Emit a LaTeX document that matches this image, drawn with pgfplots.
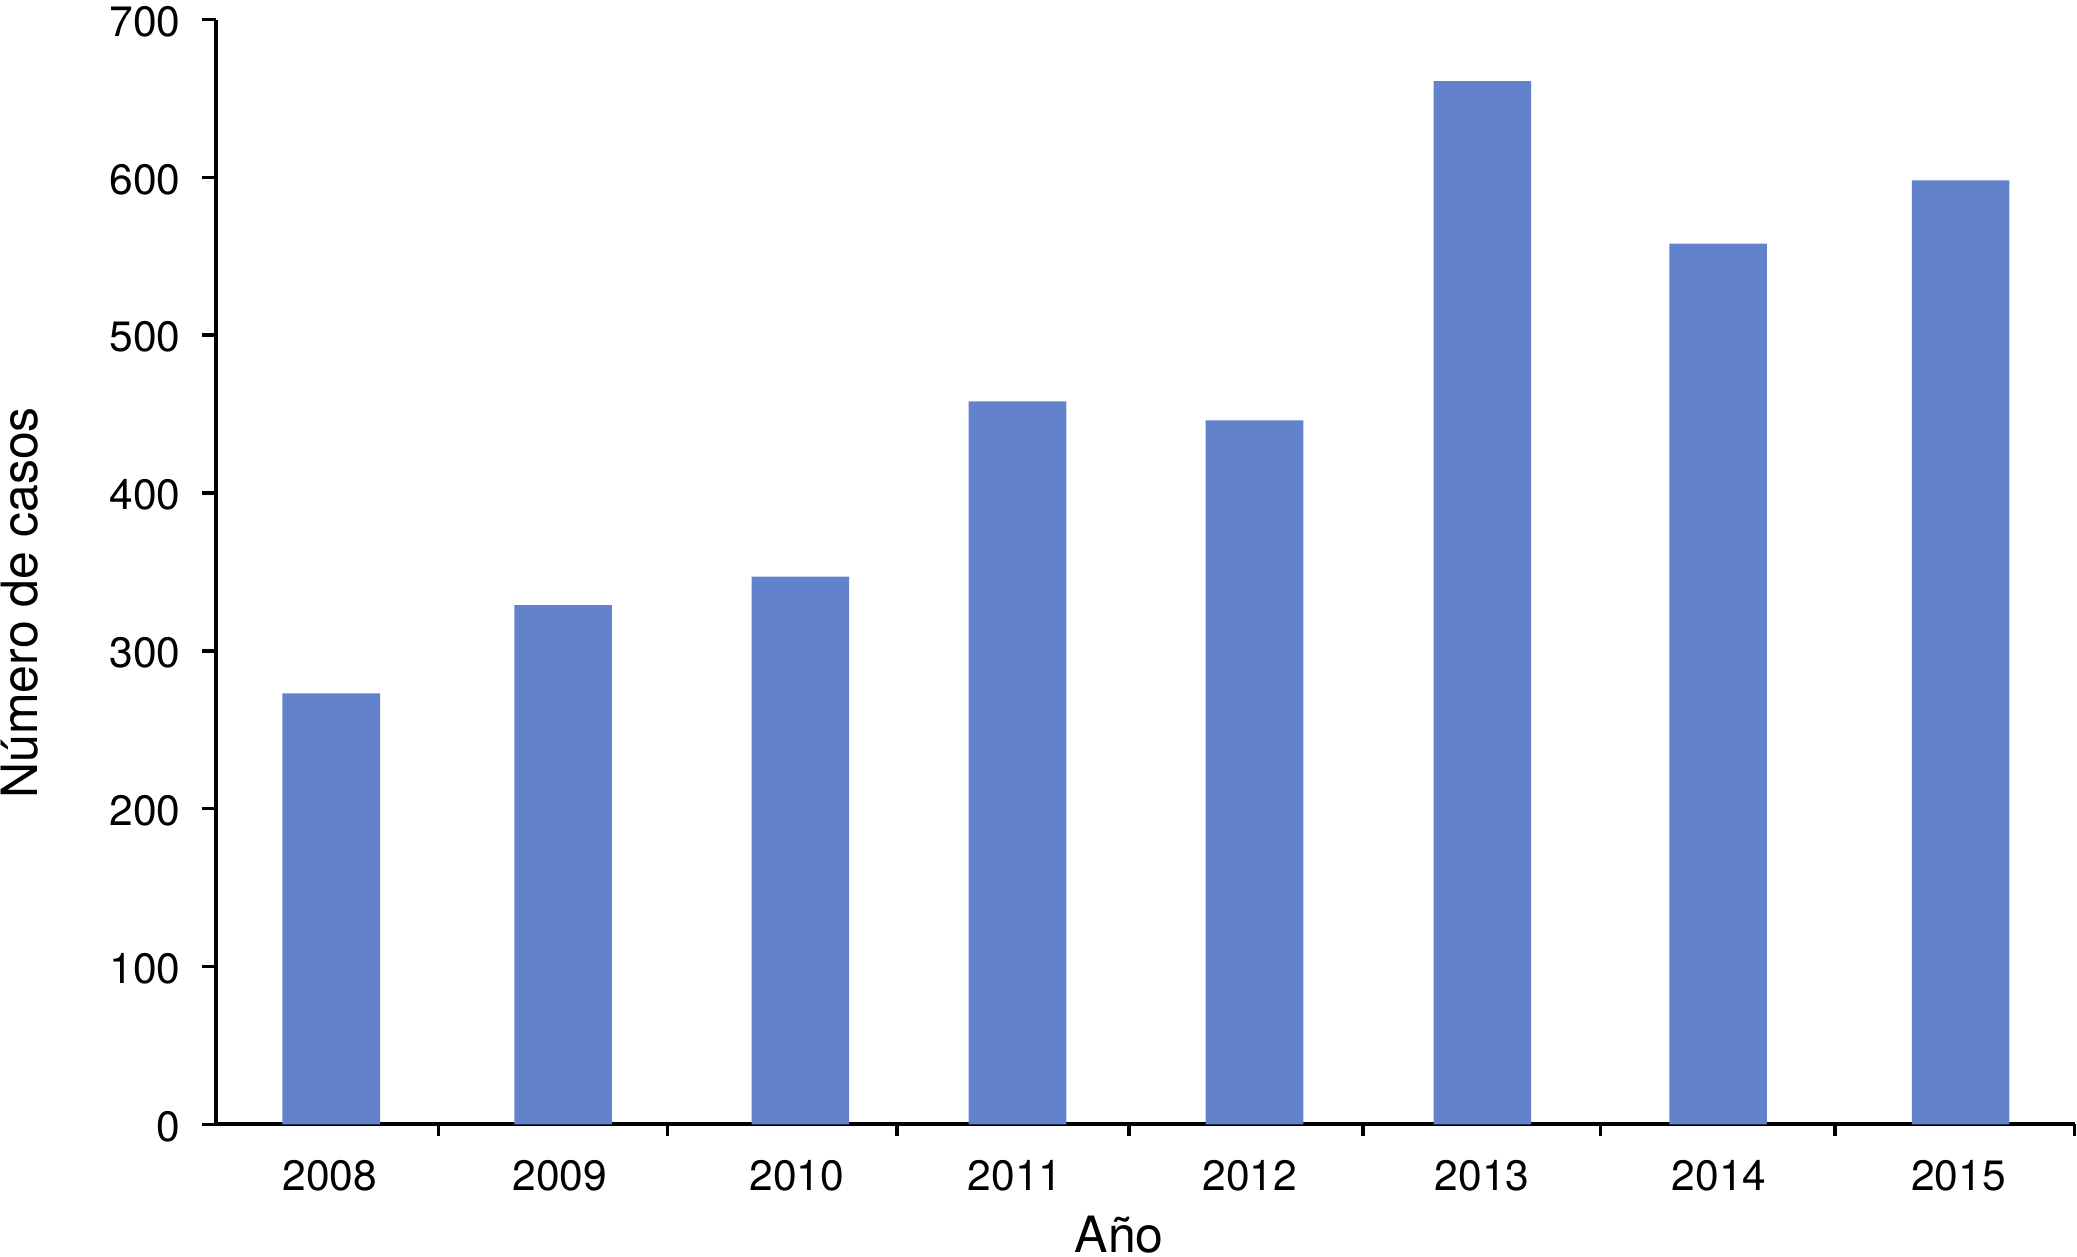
\documentclass[border=0pt]{standalone}
\usepackage{fontspec}
\setmainfont{TeX Gyre Heros}
\usepackage{pgfplots}
\pgfplotsset{compat=1.18}
\definecolor{barblue}{RGB}{98,130,204}
\begin{document}
\begin{tikzpicture}
\begin{axis}[
  scale only axis,
  width=371.6pt, height=220.9pt,
  xmin=-0.5, xmax=7.5,
  ymin=0, ymax=700,
  axis x line*=bottom, axis y line*=left,
  axis line style={-, line width=0.8pt, black},
  tick align=outside,
  tick style={line width=0.7pt, black},
  major tick length=2.8pt,
  minor tick length=2.4pt,
  xtick={-0.01,0.98,2.0,2.94,3.95,4.95,5.97,7.0},
  xticklabels={2008,2009,2010,2011,2012,2013,2014,2015},
  major x tick style={draw=none},
  minor xtick={0.458,1.444,2.431,3.429,4.438,5.459,6.468,7.5},
  ytick={0,100,...,700},
  /pgf/number format/assume math mode=true,
  /pgf/number format/1000 sep={},
  ticklabel style={font=\fontsize{8.5}{10}\selectfont, inner sep=0pt},
  xticklabel style={anchor=north, yshift=-4.3pt},
  yticklabel style={anchor=east, xshift=-4.1pt, yshift=-0.4pt},
  xlabel={Año},
  ylabel={Número de casos},
  label style={font=\fontsize{10.2}{12}\selectfont, inner sep=0pt},
  every axis x label/.style={at={(axis description cs:0.486,-0.0995)}, anchor=center},
  every axis y label/.style={at={(axis description cs:-0.1055,0.472)}, anchor=center, rotate=90},
  ybar, bar width=0.42,
  clip=false,
]
\addplot[fill=barblue, draw=none] coordinates {
  (-0.004,273) (0.994,329) (2.015,347) (2.950,458) (3.970,446) (4.951,661) (5.966,558) (7.010,598)
};
\end{axis}
\pgfresetboundingbox
\path[use as bounding box] ([xshift=-43.2pt,yshift=-26.5pt]current axis.south west) rectangle ([xshift=0.5pt,yshift=3.9pt]current axis.north east);
\end{tikzpicture}
\end{document}
